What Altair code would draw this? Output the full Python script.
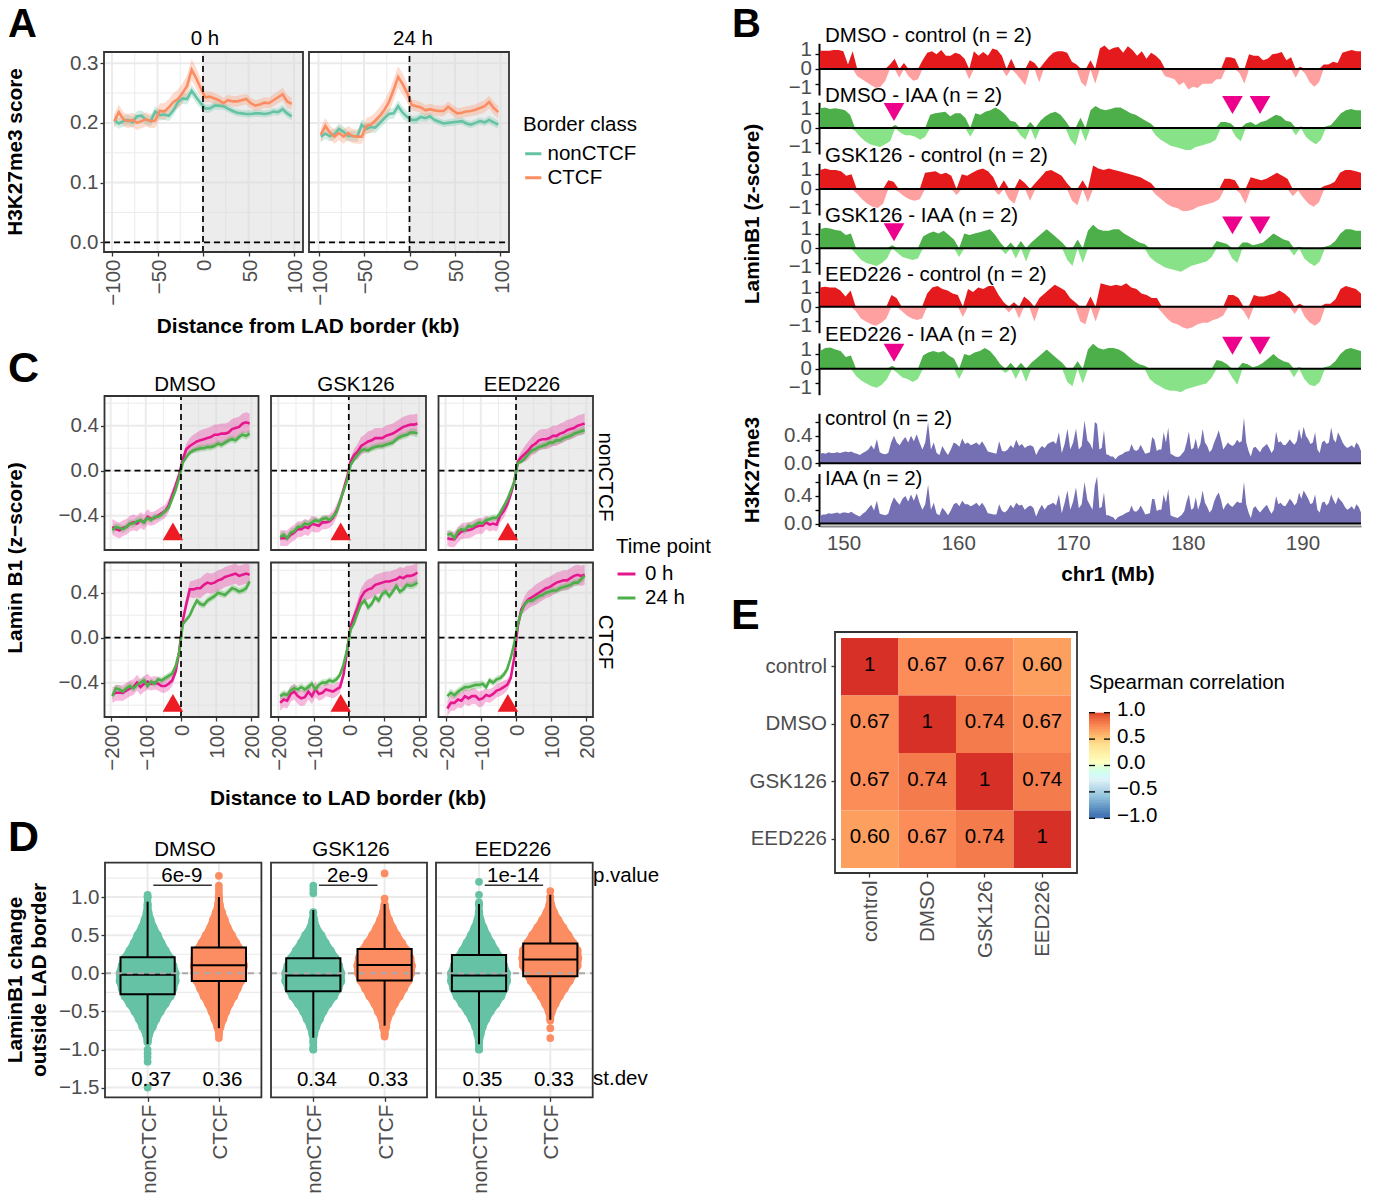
import altair as alt
import pandas as pd

FONT = "Liberation Sans"
FS = 20.5
FB = 20.8
OX, OY = 8, 8
W, H = 1360, 1187
BORDER = "#333333"
GRID = "#EBEBEB"
TEAL, ORANGE, MAGENTA, GREEN = "#66C2A5", "#FC8D62", "#E6168F", "#4DAF4A"

# ---------- Panel A values ----------
A_X = [-97.5 + 5 * i for i in range(40)]
A_NON_0 = [.205,.199,.203,.205,.201,.211,.212,.205,.203,.219,.213,.214,.212,.221,.235,.241,.240,.254,.243,.233,
           .224,.224,.229,.229,.228,.224,.220,.217,.216,.215,.215,.216,.216,.215,.216,.219,.218,.223,.216,.211]
A_CTCF_0 = [.203,.218,.206,.203,.205,.200,.203,.206,.203,.204,.220,.219,.226,.235,.240,.250,.262,.289,.275,.258,
            .243,.244,.241,.238,.233,.238,.236,.236,.238,.240,.233,.229,.231,.234,.233,.238,.243,.248,.236,.232]
A_NON_24 = [.177,.182,.178,.181,.190,.185,.178,.178,.177,.197,.190,.193,.192,.200,.208,.215,.216,.228,.217,.210,
            .205,.205,.210,.208,.211,.205,.202,.199,.200,.201,.202,.203,.199,.197,.200,.203,.201,.205,.201,.197]
A_CTCF_24 = [.180,.195,.184,.177,.183,.177,.183,.178,.177,.177,.195,.197,.204,.212,.222,.235,.255,.277,.265,.250,
             .230,.228,.226,.221,.223,.221,.220,.220,.227,.221,.216,.217,.219,.220,.222,.225,.228,.235,.225,.218]
A_SE_NON = [.009,.009,.009,.009,.009,.009,.009,.009,.009,.009,.009,.009,.009,.009,.009,.009,.009,.010,.010,.009,
            .007,.007,.007,.007,.006,.006,.006,.006,.006,.006,.006,.006,.006,.006,.006,.006,.006,.007,.007,.007]
A_SE_CTCF = [.012,.013,.012,.012,.012,.012,.012,.012,.012,.012,.013,.014,.014,.015,.016,.017,.018,.018,.018,.016,
             .009,.009,.009,.009,.009,.009,.009,.009,.009,.009,.009,.009,.009,.009,.009,.010,.010,.011,.011,.010]

# ---------- Panel C values ----------
C_X = [-195 + 10 * i for i in range(40)]
C_VALUES = {
 ("DMSO","nonCTCF","0 h"): [-.50,-.52,-.53,-.51,-.50,-.47,-.46,-.47,-.44,-.46,-.41,-.43,-.42,-.40,-.38,-.36,-.31,-.22,-.13,-.03,.10,.19,.22,.24,.26,.27,.28,.29,.30,.32,.32,.33,.33,.34,.37,.38,.39,.42,.43,.42],
 ("DMSO","nonCTCF","24 h"): [-.53,-.50,-.51,-.52,-.50,-.47,-.47,-.45,-.44,-.46,-.42,-.44,-.41,-.41,-.39,-.36,-.33,-.25,-.17,-.06,.07,.12,.16,.18,.19,.20,.20,.21,.21,.22,.24,.23,.25,.27,.28,.27,.30,.32,.31,.33],
 ("GSK126","nonCTCF","0 h"): [-.60,-.60,-.60,-.57,-.55,-.52,-.52,-.50,-.51,-.47,-.48,-.49,-.46,-.46,-.45,-.42,-.36,-.28,-.17,-.06,.08,.14,.17,.22,.24,.26,.27,.29,.29,.29,.31,.32,.33,.35,.37,.39,.40,.41,.41,.42],
 ("GSK126","nonCTCF","24 h"): [-.59,-.57,-.60,-.55,-.54,-.50,-.50,-.47,-.48,-.46,-.44,-.45,-.43,-.42,-.44,-.41,-.37,-.27,-.18,-.09,.05,.10,.14,.18,.19,.18,.20,.21,.22,.22,.23,.24,.25,.28,.30,.31,.32,.34,.34,.33],
 ("EED226","nonCTCF","0 h"): [-.60,-.61,-.61,-.57,-.54,-.53,-.53,-.52,-.50,-.49,-.49,-.46,-.48,-.47,-.48,-.40,-.36,-.30,-.21,-.10,.08,.12,.15,.18,.22,.24,.27,.28,.28,.29,.31,.31,.33,.34,.36,.37,.38,.40,.41,.42],
 ("EED226","nonCTCF","24 h"): [-.57,-.56,-.60,-.54,-.52,-.53,-.49,-.50,-.48,-.46,-.47,-.44,-.43,-.42,-.42,-.38,-.32,-.26,-.18,-.10,.07,.08,.11,.15,.18,.19,.21,.22,.23,.25,.25,.27,.27,.29,.30,.31,.33,.34,.35,.36],
 ("DMSO","CTCF","0 h"): [-.51,-.49,-.49,-.49,-.47,-.45,-.44,-.40,-.44,-.41,-.39,-.41,-.40,-.41,-.43,-.43,-.41,-.38,-.30,-.12,.15,.30,.43,.43,.44,.44,.47,.49,.48,.49,.51,.52,.54,.55,.56,.57,.55,.56,.57,.56],
 ("DMSO","CTCF","24 h"): [-.52,-.45,-.46,-.48,-.45,-.43,-.45,-.42,-.40,-.38,-.43,-.39,-.41,-.37,-.38,-.36,-.34,-.32,-.25,-.13,.12,.16,.20,.27,.33,.30,.29,.33,.35,.37,.40,.39,.38,.41,.44,.43,.41,.42,.44,.50],
 ("GSK126","CTCF","0 h"): [-.58,-.55,-.56,-.50,-.48,-.52,-.54,-.53,-.48,-.52,-.46,-.50,-.49,-.46,-.47,-.48,-.46,-.44,-.33,-.12,.10,.19,.27,.36,.41,.43,.44,.47,.48,.49,.50,.50,.51,.52,.54,.53,.55,.55,.56,.58],
 ("GSK126","CTCF","24 h"): [-.52,-.50,-.51,-.47,-.45,-.46,-.44,-.46,-.44,-.41,-.46,-.42,-.40,-.40,-.38,-.39,-.37,-.33,-.24,-.11,.07,.13,.22,.30,.33,.27,.30,.36,.33,.39,.41,.37,.41,.46,.41,.43,.47,.46,.47,.49],
 ("EED226","CTCF","0 h"): [-.63,-.58,-.58,-.55,-.56,-.52,-.54,-.52,-.52,-.55,-.54,-.51,-.52,-.50,-.47,-.46,-.44,-.42,-.36,-.18,.10,.25,.30,.34,.36,.38,.40,.42,.44,.45,.47,.49,.50,.51,.51,.53,.55,.56,.55,.56],
 ("EED226","CTCF","24 h"): [-.52,-.49,-.51,-.48,-.46,-.44,-.44,-.43,-.42,-.42,-.41,-.44,-.38,-.40,-.37,-.36,-.33,-.28,-.18,-.05,.12,.23,.30,.33,.33,.35,.37,.38,.40,.41,.42,.42,.44,.45,.46,.47,.49,.49,.52,.55],
}
C_SE_0 = [.07,.07,.07,.07,.07,.07,.07,.07,.07,.07,.07,.06,.06,.06,.06,.06,.06,.05,.04,.02,
          .03,.05,.07,.08,.08,.09,.09,.09,.09,.09,.09,.09,.09,.09,.09,.09,.09,.09,.09,.09]
C_SE_24 = [.035,.035,.035,.035,.035,.035,.035,.035,.035,.035,.03,.03,.03,.03,.03,.03,.03,.03,.02,.015,
           .015,.02,.025,.025,.03,.03,.03,.03,.03,.03,.03,.03,.03,.03,.03,.03,.03,.03,.035,.035]

# ---------- Panel D values ----------
D_LEVELS = [-1.0,-.9,-.8,-.7,-.6,-.5,-.4,-.3,-.2,-.1,0,.1,.2,.3,.4,.5,.6,.7,.8,.9,1.0]
D_TREATS = ["DMSO","GSK126","EED226"]
D_WIDTH = {
 ("DMSO",1): [0,.06,.08,.13,.18,.24,.31,.38,.42,.45,.45,.42,.38,.31,.25,.20,.14,.10,.07,.06,.04],
 ("DMSO",2): [0,0,.05,.08,.12,.16,.21,.27,.32,.37,.40,.41,.40,.37,.30,.24,.18,.14,.10,.07,.06],
 ("GSK126",1): [.04,.05,.07,.10,.15,.20,.27,.35,.41,.45,.45,.42,.37,.30,.23,.17,.10,.07,.05,0,0],
 ("GSK126",2): [0,0,.05,.08,.10,.15,.20,.27,.33,.39,.43,.44,.42,.37,.30,.23,.17,.12,.08,.06,0],
 ("EED226",1): [.04,.06,.08,.11,.16,.22,.30,.37,.42,.45,.45,.41,.36,.29,.23,.17,.12,.08,.06,.04,0],
 ("EED226",2): [0,0,0,0,.05,.08,.13,.19,.26,.33,.39,.44,.45,.44,.38,.31,.24,.17,.11,.07,.05],
}
D_OUT = {
 ("DMSO",1): [1.03,-1.0,-1.05,-1.1,-1.16,-1.5],
 ("DMSO",2): [1.28,1.15,1.1,1.05,-.85],
 ("GSK126",1): [1.15,1.1,1.05,-.97],
 ("GSK126",2): [1.31,.98,-.83],
 ("EED226",1): [1.2,1.03,.93,-.97],
 ("EED226",2): [1.08,-.62,-.72,-.85],
}
# lower whisker, q1, median, q3, upper whisker
D_BOX = {
 ("DMSO",1): [-.93,-.276,-.02,.21,.94],
 ("DMSO",2): [-.72,-.10,.105,.34,1.0],
 ("GSK126",1): [-.845,-.236,-.03,.197,.83],
 ("GSK126",2): [-.687,-.096,.11,.32,.91],
 ("EED226",1): [-.93,-.236,-.03,.24,.91],
 ("EED226",2): [-.61,-.04,.18,.39,1.03],
}
D_P = {"DMSO":"6e-9","GSK126":"2e-9","EED226":"1e-14"}
D_SD = {"DMSO":["0.37","0.36"],"GSK126":["0.34","0.33"],"EED226":["0.35","0.33"]}

# ---------- Panel B values ----------
T_DMSO_C = [1.25,1.25,1.25,1.3,1.3,1.2,.3,1.2,-.5,-.7,-.9,-1.1,-1.3,-1.2,-.8,.3,.7,-.6,.4,-.5,-.8,-.7,.6,1.1,1.2,1.0,1.3,.9,.9,1.1,1.0,.7,-.7,1.2,.9,1.15,.9,1.4,1.3,.9,-.5,.7,-.3,-.7,-1.1,.6,.4,-.9,.4,.8,1.1,1.2,1.2,1.1,.5,.3,-.9,-1.2,
            .6,-1.0,1.4,1.6,1.3,1.45,1.5,1.1,1.55,1.3,.9,1.2,.7,1.1,.9,.6,-.5,-.6,-.7,-1.1,-.9,-1.4,-1.2,-1.3,-1.0,-1.0,-1.0,-.7,-.7,.8,.8,.7,-.3,-1.0,1.0,.9,.9,.6,.7,1.0,1.05,1.15,.6,.8,-.6,.15,-.3,-.9,-1.2,-.9,.3,.3,.5,.4,1.1,1.2,1.3,1.2,1.2]
T_DMSO_I = [1.35,1.4,1.3,1.35,1.3,1.2,.9,-.2,-.6,-.9,-1.1,-1.2,-1.3,-1.1,-.9,.2,-.3,-.5,-.5,-.6,-.8,-.6,.9,1.0,1.05,1.1,.8,1.0,1.0,.7,-.6,1.0,.9,1.1,1.2,1.4,1.2,.9,.5,.4,-.5,-.8,.4,-.8,.5,.8,1.0,1.1,.9,.5,-.8,-1.2,.7,-.9,1.2,1.5,1.3,1.2,1.3,1.4,1.4,1.2,1.0,.9,.7,.5,.3,-.5,-.8,-1.0,-1.2,-1.3,-1.4,-1.5,-1.5,-1.3,-1.2,-1.1,-1.0,-.8,.4,.4,.3,-.6,-.9,.3,.4,.2,.4,.5,.7,.9,.8,.5,.4,-.5,.1,-.6,-.9,-1.1,-.8,.1,.2,.6,1.0,1.2,1.3,1.2,1.2]
T_GSK_C = [1.3,1.4,1.3,1.3,1.2,.9,1.0,-.3,-.7,-1.0,-1.2,-1.3,-1.0,.6,.5,-.2,-.5,-.7,-.8,-.7,1.1,1.15,1.2,1.0,1.1,.9,-.4,1.0,.9,1.1,1.3,1.4,1.2,.8,-.4,.6,-.7,-1.0,.7,.4,-.8,.4,.8,1.2,1.3,1.1,.9,.4,-.8,-1.1,.6,-.9,1.6,1.4,1.3,1.4,1.3,1.2,1.1,1.0,.9,.8,.6,.4,-.4,-.7,-1.0,-1.2,-1.3,-1.5,-1.5,-1.4,-1.2,-1.1,-1.0,-.9,-.7,.7,.7,.6,-.3,-1.0,.8,.7,.6,.7,.9,1.1,.9,.7,-.5,-.1,-.6,-1.0,-1.2,-.9,.2,.3,.5,1.1,1.3,1.3,1.2,1.1]
T_GSK_I = [1.3,1.4,1.35,1.25,1.2,.9,1.0,-.4,-.8,-1.0,-1.1,-1.2,-1.0,-.7,.2,-.3,-.6,-.7,-.8,-.7,.8,1.0,1.15,1.0,1.2,.9,.6,-.6,1.0,.9,1.0,1.1,1.2,1.3,.9,.4,-.4,.4,-.7,.5,-.9,.4,.7,1.0,1.3,1.0,.7,.4,-.8,-1.2,.6,-1.0,1.2,1.6,1.3,1.2,1.2,1.3,1.3,1.0,.8,.6,.4,.3,-.6,-.9,-1.1,-1.3,-1.4,-1.5,-1.6,-1.4,-1.2,-1.1,-1.0,-.9,-.6,.5,.4,.3,-.7,-1.0,.4,.4,.2,.3,.4,.7,1.0,.8,.6,.5,-.5,.1,-.7,-1.0,-1.2,-.9,.1,.2,.5,1.0,1.3,1.3,1.2,1.2]
T_EED_C = [1.3,1.35,1.3,1.3,1.1,.7,1.1,-.3,-.8,-1.0,-1.2,-1.3,-1.1,-.8,.8,.6,-.3,-.6,-.8,-.9,-.8,.9,1.3,1.4,1.2,1.1,.9,.8,-.7,1.2,1.0,1.3,1.2,1.4,1.4,.8,.3,-.4,.3,-.8,.7,.4,-1.0,.6,.9,1.2,1.5,1.3,1.1,.6,.3,-1.0,-1.2,.7,-1.0,1.6,1.5,1.4,1.5,1.4,1.6,1.3,1.2,.9,.8,.6,.6,-.4,-.8,-1.1,-1.2,-1.4,-1.5,-1.4,-1.2,-1.1,-1.1,-.9,-.8,-.6,.8,.8,.6,-.3,-.9,.8,.7,.7,.8,.9,1.1,.9,.6,-.5,.2,-.7,-1.1,-1.3,-1.0,.2,.2,.5,1.2,1.4,1.3,1.2,.9]
T_EED_I = [1.2,1.4,1.45,1.3,1.2,.8,.9,-.5,-.8,-1.0,-1.2,-1.3,-1.1,-.7,.2,-.3,-.6,-.7,-.9,-.7,.9,1.1,1.2,1.1,1.2,.9,.7,-.7,1.0,.9,1.1,1.2,1.4,1.2,.8,.3,-.3,.4,-.7,.4,-.9,.4,.7,1.0,1.3,1.0,.7,.4,-.9,-1.2,.5,-1.0,1.3,1.7,1.4,1.3,1.4,1.4,1.3,1.1,.8,.5,.3,.2,-.7,-1.0,-1.2,-1.4,-1.5,-1.5,-1.6,-1.4,-1.3,-1.2,-1.1,-1.0,-.6,.6,.5,.3,-.6,-1.1,.4,.3,.1,.2,.4,.7,1.0,.7,.5,.4,-.6,.1,-.7,-1.1,-1.2,-.9,.1,.2,.5,1.0,1.3,1.4,1.3,1.2]

H_CTRL_L = [.14,.15,.14,.16,.15,.15,.16,.15,.16,.17,.16,.17,.15,.14,.12,.15,.17,.2,.26,.2,.35,.16,.14,.13,.15,.3,.4,.3,.26,.33,.38,.3,.4,.32,.42,.3,.2,.3,.6,.2,.3,.15,.12,.25,.18,.12,.2,.3,.28,.24,.36,.28,.3,.26,.28,.3,.26,.32,.25,.17,.16,.15,.14,.32,.18,.17,.2,.26,.22,.34,.25,.28,.22,.25,.26,.24,.12,.2,.25,.22,.28,.3,.32,.28,.45,.15,.28,.5,.2,.3,.5,.2,.25,.62,.33]
H_CTRL_R = [.28,.2,.6,.57,.2,.22,.48,.13,.12,.1,.1,.06,.1,.12,.13,.16,.17,.18,.28,.2,.18,.2,.27,.2,.14,.15,.16,.38,.34,.18,.2,.2,.45,.3,.52,.14,.12,.1,.09,.1,.14,.18,.3,.46,.2,.22,.36,.2,.28,.5,.3,.25,.16,.2,.3,.38,.48,.35,.2,.25,.3,.27,.25,.28,.34,.3,.32,.66,.3,.18,.1,.22,.24,.2,.16,.22,.25,.28,.22,.15,.2,.46,.3,.32,.27,.26,.3,.35,.3,.27,.32,.5,.35,.53,.4,.35,.28,.3,.45,.2,.15,.3,.33,.28,.3,.52,.35,.3,.45,.38,.3,.25,.22,.24,.26,.22,.3,.26,.18]
H_IAA_L = [.11,.13,.13,.15,.14,.15,.16,.14,.16,.16,.15,.17,.14,.12,.1,.14,.17,.22,.27,.19,.33,.14,.13,.12,.14,.28,.38,.32,.27,.36,.4,.32,.42,.33,.44,.3,.2,.28,.56,.2,.3,.14,.12,.23,.18,.12,.19,.28,.3,.25,.33,.28,.28,.25,.27,.3,.25,.3,.24,.15,.14,.13,.13,.28,.18,.16,.2,.27,.22,.3,.26,.27,.2,.24,.26,.23,.1,.2,.27,.2,.26,.28,.3,.26,.42,.15,.3,.48,.2,.32,.52,.22,.28,.6,.34]
H_IAA_R = [.26,.2,.55,.68,.22,.24,.45,.12,.12,.1,.09,.05,.09,.11,.12,.14,.16,.17,.26,.18,.17,.2,.26,.2,.13,.14,.15,.36,.35,.18,.2,.2,.42,.3,.5,.12,.1,.09,.08,.1,.13,.18,.32,.42,.2,.22,.38,.2,.3,.48,.3,.24,.16,.2,.32,.4,.45,.34,.2,.26,.3,.26,.24,.28,.32,.3,.3,.6,.28,.16,.08,.22,.25,.2,.16,.2,.24,.27,.2,.14,.2,.4,.28,.3,.26,.25,.3,.36,.32,.26,.3,.45,.36,.48,.42,.36,.28,.3,.42,.2,.16,.3,.32,.26,.3,.42,.34,.28,.38,.34,.3,.24,.2,.22,.25,.2,.28,.24,.16]
TRI_MB_LEFT, TRI_MB_RIGHT = [154.4], [183.9, 186.3]

# ---------- Panel E values ----------
E_NAMES = ["control","DMSO","GSK126","EED226"]
E_MATRIX = [[1,.67,.67,.60],[.67,1,.74,.67],[.67,.74,1,.74],[.60,.67,.74,1]]
E_TICKS = [1,.5,0,-.5,-1]
E_BAR_STOPS = [-1+i*.05 for i in range(40)]


# ---------- helpers ----------
def sx(domain, p0, p1):
    return alt.Scale(domain=domain, range=[p0-OX, p1-OX], nice=False, zero=False, clamp=True)

def sy(domain, bottom, top):
    return alt.Scale(domain=domain, range=[bottom-OY, top-OY], nice=False, zero=False, clamp=True)

class Enc:
    """Position channels of one panel: every layer carries the same scale and the same axis."""
    def __init__(self, xs, ys, xax=None, yax=None):
        self.xs, self.ys, self.xax, self.yax = xs, ys, xax, yax
    def x(self, f):
        return alt.X(f + ":Q", scale=self.xs, axis=self.xax)
    def y(self, f):
        return alt.Y(f + ":Q", scale=self.ys, axis=self.yax)

def T(text, x, y, size=FS, bold=False, angle=0, align="left", baseline="middle", color="black"):
    return alt.Chart(pd.DataFrame({"t":[text]})).mark_text(
        font=FONT, fontSize=size, fontWeight="bold" if bold else "normal", angle=angle,
        align=align, baseline=baseline, color=color).encode(
        x=alt.value(x-OX), y=alt.value(y-OY), text="t:N")

def frame(x0, x1, y0, y1, width=1.8):
    return alt.Chart(pd.DataFrame({"a":[0]})).mark_rect(
        fillOpacity=0, stroke=BORDER, strokeWidth=width).encode(
        x=alt.value(x0-OX), x2=alt.value(x1-OX), y=alt.value(y0-OY), y2=alt.value(y1-OY))

def xaxis(bottom, values, fmt="d", **kw):
    d = dict(orient="bottom", offset=bottom-OY-H, values=values, title=None, domain=False, grid=False,
             labelAngle=270, labelAlign="right", labelBaseline="middle", labelFlush=False,
             labelOverlap=False, format=fmt, tickSize=4, labelPadding=3, labelOffset=1.5)
    d.update(kw)
    return alt.Axis(**d)

def yaxis(left, values, fmt=".1f", **kw):
    d = dict(orient="left", offset=-(left-OX), values=values, title=None, domain=False, grid=False,
             labelFlush=False, labelOverlap=False, format=fmt, tickSize=4, labelPadding=2)
    d.update(kw)
    return alt.Axis(**d)

def vrule(e, vals, y0, y1, **mk):
    df = pd.DataFrame({"v":vals,"a":y0,"b":y1})
    return alt.Chart(df).mark_rule(**mk).encode(x=e.x("v"), y=e.y("a"), y2="b:Q")

def hrule(e, vals, x0, x1, **mk):
    df = pd.DataFrame({"v":vals,"a":x0,"b":x1})
    return alt.Chart(df).mark_rule(**mk).encode(y=e.y("v"), x=e.x("a"), x2="b:Q")

def profile_panel(xdom, ydom, box, maj_x, min_x, maj_y, min_y, xax, yax, series, colors, order, legend):
    x0, x1, y0, y1 = box
    e = Enc(sx(xdom, x0, x1), sy(ydom, y1, y0), xax, yax)
    layers = [
        vrule(e, min_x, ydom[0], ydom[1], color=GRID, strokeWidth=1),
        hrule(e, min_y, xdom[0], xdom[1], color=GRID, strokeWidth=1),
        vrule(e, maj_x, ydom[0], ydom[1], color=GRID, strokeWidth=2),
        hrule(e, maj_y, xdom[0], xdom[1], color=GRID, strokeWidth=2),
    ]
    gray = pd.DataFrame({"a":[0],"b":[xdom[1]],"c":[ydom[0]],"d":[ydom[1]]})
    layers.append(alt.Chart(gray).mark_rect(color="#D9D9D9", opacity=.5).encode(
        x=e.x("a"), x2="b:Q", y=e.y("c"), y2="d:Q"))
    df = pd.DataFrame(series)
    cs = alt.Scale(domain=order, range=colors)
    layers.append(alt.Chart(df).mark_area(opacity=.3, strokeWidth=0).encode(
        x=e.x("x"), y=e.y("lo"), y2="hi:Q", color=alt.Color("s:N", scale=cs, legend=legend)))
    layers.append(alt.Chart(df).mark_line(strokeWidth=2.6).encode(
        x=e.x("x"), y=e.y("y"), color=alt.Color("s:N", scale=cs, legend=legend)))
    layers.append(vrule(e, [0], ydom[0], ydom[1], color="black", strokeWidth=1.7, strokeDash=[6,4]))
    layers.append(hrule(e, [0], xdom[0], xdom[1], color="black", strokeWidth=1.7, strokeDash=[6,4]))
    return layers, e

def rows(x, y, se, name):
    return [{"x":a,"y":b,"lo":b-c,"hi":b+c,"s":name} for a,b,c in zip(x,y,se)]


panels = []

# ---------- Panel A ----------
A_LEGEND = alt.Legend(orient="none", legendX=523-OX, legendY=115-OY, title="Border class",
                      symbolType="stroke", symbolSize=260, symbolStrokeWidth=3, symbolOpacity=1, rowPadding=3,
                      labelOffset=4, titlePadding=8, padding=0)
for i, (title, non, ctcf, box, zero) in enumerate([
    ("0 h", A_NON_0, A_CTCF_0, (104,303,52,252), 203),
    ("24 h", A_NON_24, A_CTCF_24, (309,509,52,252), 409.5)]):
    k = .91
    xdom = [(box[0]-zero)/k, (box[1]-zero)/k]
    ydom = [(242.3-252)/597, (242.3-52)/597]
    ser = rows(A_X, non, A_SE_NON, "nonCTCF") + rows(A_X, ctcf, A_SE_CTCF, "CTCF")
    lay, e = profile_panel(xdom, ydom, box, [-100,-50,0,50,100], [-75,-25,25,75],
                           [0,.1,.2,.3], [.05,.15,.25],
                           xaxis(252,[-100,-50,0,50,100]),
                           yaxis(104,[0,.1,.2,.3]) if i==0 else None,
                           ser, [TEAL,ORANGE], ["nonCTCF","CTCF"], A_LEGEND if i==0 else None)
    panels.append(alt.layer(*lay, frame(*box)))

# ---------- Panel C ----------
C_TREATS = ["DMSO","GSK126","EED226"]
C_COLS = [(104.5,258.5,181),(271,426,348.8),(438.5,593,516)]
C_ROWS = [("nonCTCF",396,550,470.7),("CTCF",562.5,717,637.7)]
C_LEGEND = alt.Legend(orient="none", legendX=616-OX, legendY=537-OY, title="Time point",
                      symbolType="stroke", symbolSize=320, symbolStrokeWidth=3, symbolOpacity=1, rowPadding=3,
                      labelOffset=8, titlePadding=6, padding=0)
for r,(cls,top,bot,zy) in enumerate(C_ROWS):
    for c,(x0,x1,zx) in enumerate(C_COLS):
        tr = C_TREATS[c]
        kx, ky = .352, 112.4
        xdom = [(x0-zx)/kx,(x1-zx)/kx]
        ydom = [(zy-bot)/ky,(zy-top)/ky]
        ser = rows(C_X, C_VALUES[(tr,cls,"0 h")], C_SE_0, "0 h") + rows(C_X, C_VALUES[(tr,cls,"24 h")], C_SE_24, "24 h")
        lay, e = profile_panel(xdom, ydom, (x0,x1,top,bot), [-200,-100,0,100,200], [-150,-50,50,150],
                               [-.4,0,.4], [-.6,-.2,.2,.6],
                               xaxis(bot,[-200,-100,0,100,200]) if r==1 else None,
                               yaxis(x0,[-.4,0,.4]) if c==0 else None,
                               ser, [MAGENTA,GREEN], ["0 h","24 h"], C_LEGEND if (r==0 and c==0) else None)
        tri = alt.Chart(pd.DataFrame({"x":[-23],"y":[-.54 if r==0 else -.58]})).mark_point(
            shape="triangle-up", filled=True, size=420, color="#ED1C24", opacity=1).encode(
            x=e.x("x"), y=e.y("y"))
        panels.append(alt.layer(*lay, tri, frame(x0,x1,top,bot)))

# ---------- Panel D ----------
D_COLS = [(105,261.4,147.6),(271,427,313.3),(436,592.7,479)]
for c,tr in enumerate(D_TREATS):
    x0,x1,cx = D_COLS[c]
    top,bot = 862.7,1097.3
    ky = 76.2
    kx = 71.3
    xdom = [1+(x0-cx)/kx, 1+(x1-cx)/kx]
    ydom = [(973.3-bot)/ky,(973.3-top)/ky]
    e = Enc(sx(xdom,x0,x1), sy(ydom,bot,top),
            xaxis(bot,[1,2],labelExpr="datum.value==1?'nonCTCF':'CTCF'"),
            yaxis(x0,[-1.5,-1,-.5,0,.5,1]) if c==0 else None)
    lay = [
        hrule(e,[-1.25,-.75,-.25,.25,.75,1.25],xdom[0],xdom[1],color=GRID,strokeWidth=1.2),
        vrule(e,[1,2],ydom[0],ydom[1],color=GRID,strokeWidth=2),
        hrule(e,[-1.5,-1,-.5,0,.5,1],xdom[0],xdom[1],color=GRID,strokeWidth=2),
    ]
    for cat,col in ((1,TEAL),(2,ORANGE)):
        r = .056
        wd = [(l, max(w-r,0)) for l,w in zip(D_LEVELS, D_WIDTH[(tr,cat)]) if w>0]
        prof = pd.DataFrame({"y":[a for a,b in wd],"a":[cat-b for a,b in wd],"b":[cat+b for a,b in wd]})
        lay.append(alt.Chart(prof).mark_area(color=col, orient="horizontal", stroke=col, strokeWidth=7,
                                             strokeJoin="round").encode(
            y=e.y("y"), x=e.x("a"), x2="b:Q"))
        dots = pd.DataFrame({"y":list(prof.y)*2+D_OUT[(tr,cat)],
                             "x":list(prof.a)+list(prof.b)+[cat]*len(D_OUT[(tr,cat)])})
        lay.append(alt.Chart(dots).mark_circle(color=col, size=60, opacity=1).encode(x=e.x("x"), y=e.y("y")))
    for cat,col in ((1,TEAL),(2,ORANGE)):
        wl,q1,med,q3,wh = D_BOX[(tr,cat)]
        lay.append(vrule(e,[cat],wl,wh,color="black",strokeWidth=2))
        lay.append(alt.Chart(pd.DataFrame({"a":[cat-.38],"b":[cat+.38],"c":[q1],"d":[q3]})).mark_rect(
            color=col, stroke="black", strokeWidth=2).encode(x=e.x("a"), x2="b:Q", y=e.y("c"), y2="d:Q"))
        lay.append(hrule(e,[med],cat-.38,cat+.38,color="black",strokeWidth=2))
    lay.append(hrule(e,[0],xdom[0],xdom[1],color="#AAAAAA",strokeWidth=2,strokeDash=[6,5]))
    lay.append(hrule(e,[1.155],1.08,1.9,color=BORDER,strokeWidth=1.6))
    lay.append(alt.Chart(pd.DataFrame({"x":[1.48],"y":[1.28],"t":[D_P[tr]]})).mark_text(font=FONT,fontSize=FS,color="black").encode(
        x=e.x("x"), y=e.y("y"), text="t:N"))
    lay.append(alt.Chart(pd.DataFrame({"x":[1.05,2.05],"y":[-1.4,-1.4],"t":D_SD[tr]})).mark_text(font=FONT,fontSize=FS,color="black").encode(
        x=e.x("x"), y=e.y("y"), text="t:N"))
    panels.append(alt.layer(*lay, frame(x0,x1,top,bot)))

# ---------- Panel B ----------
XB = [147.95, 195.1]
XL, XR = 820, 1361
K = 14.7
def lamin(vals, zero, pos, neg, tri_on):
    top, bot = zero-25.7, zero+26
    e = Enc(sx(XB, XL, XR), sy([(zero-bot)/K,(zero-top)/K], bot, top), None,
            yaxis(XL-1,[-1,0,1],labels=False,domain=True,domainColor="black",domainWidth=2,tickColor="black"))
    step = (XB[1]-XB[0])/(len(vals)-1)
    df = pd.DataFrame({"a":[XB[0]+i*step for i in range(len(vals))],
                       "p":[max(v,0) for v in vals],"n":[min(v,0) for v in vals],"z":[0]*len(vals)})
    up = alt.Chart(df).mark_area(color=pos, strokeWidth=0).encode(x=e.x("a"), y=e.y("p"), y2="z:Q")
    down = alt.Chart(df).mark_area(color=neg, strokeWidth=0).encode(x=e.x("a"), y=e.y("n"), y2="z:Q")
    base = hrule(e,[0],XB[0],XB[1],color="black",strokeWidth=2)
    labs = []
    for v,t,dy in ((1,"1",-4.3),(0,"0",0),(-1,"\u22121",4.3)):
        labs.append(alt.Chart(pd.DataFrame({"v":[v],"t":[t]})).mark_text(
            font=FONT,fontSize=FS,color="#4D4D4D",align="right",dy=dy).encode(
            x=alt.value(812-OX), y=e.y("v"), text="t:N"))
    out = [up, down, base] + labs
    if tri_on:
        t = pd.DataFrame({"x":TRI_MB_LEFT+TRI_MB_RIGHT,"y":[1.09,1.56,1.56]})
        out.append(alt.Chart(t).mark_point(shape="triangle-down",filled=True,size=428,color="#EC008C",opacity=1).encode(
            x=e.x("x"), y=e.y("y")))
    return alt.layer(*out)

RED, PINK, GRN, LGRN = "#E41A1C", "#FFA0A0", "#4DAF4A", "#88E288"
for vals,zero,p,n,tri in [
    (T_DMSO_C,69,RED,PINK,False),(T_DMSO_I,128,GRN,LGRN,True),
    (T_GSK_C,189,RED,PINK,False),(T_GSK_I,248.3,GRN,LGRN,True),
    (T_EED_C,306.7,RED,PINK,False),(T_EED_I,368.7,GRN,LGRN,True)]:
    panels.append(lamin(vals,zero,p,n,tri))

def h3(left, right, zero, last):
    top, bot = zero-50, zero+3
    kh = 69
    yax = yaxis(XL-1,[0,.2,.4,.6],labelExpr="(datum.value==0||(datum.value>0.39&&datum.value<0.41))?format(datum.value,'.1f'):''",
                domain=True,domainColor="black",domainWidth=2,tickColor="black",labelPadding=3)
    xax = xaxis(526,[150,160,170,180,190],labelAngle=0,labelAlign="center",labelBaseline="top",tickSize=0,labelPadding=7,
                labelOffset=0,domain=True,domainColor="#888888",domainWidth=2) if last else None
    e = Enc(sx(XB, XL, XR), sy([(zero-bot)/kh,(zero-top)/kh], bot, top), xax, yax)
    mid = 171.5
    sl = (mid-XB[0])/len(left); sr = (XB[1]-mid)/(len(right)-1)
    a = [XB[0]+i*sl for i in range(len(left))]+[mid+i*sr for i in range(len(right))]
    df = pd.DataFrame({"a":a,"v":left+right,"z":[0]*len(a)})
    area = alt.Chart(df).mark_area(color="#7570B3", strokeWidth=0).encode(x=e.x("a"), y=e.y("v"), y2="z:Q")
    base = hrule(e,[0],XB[0],XB[1],color="black",strokeWidth=2)
    return alt.layer(area, base)

panels.append(h3(H_CTRL_L,H_CTRL_R,463.3,False))
panels.append(h3(H_IAA_L,H_IAA_R,523.5,True))

# ---------- Panel E ----------
ex = alt.Scale(domain=E_NAMES, range=[841-OX,1071-OX], paddingInner=0, paddingOuter=0)
ey = alt.Scale(domain=E_NAMES, range=[638-OY,868-OY], paddingInner=0, paddingOuter=0)
cells = pd.DataFrame([{"a":a,"b":b,"v":E_MATRIX[i][j],
                       "t":"1" if E_MATRIX[i][j]==1 else f"{E_MATRIX[i][j]:.2f}"}
                      for i,b in enumerate(E_NAMES) for j,a in enumerate(E_NAMES)])
e_cols = alt.Scale(domain=[-1,-.667,-.333,0,.333,.667,1],
                   range=["#4575B4","#91BFDB","#E0F3F8","#FFFFBF","#FEE090","#FC8D59","#D73027"])
ex_ax = alt.Axis(orient="bottom", offset=873-OY-H, title=None, domain=False, grid=False, labelAngle=270,
                 labelAlign="right", labelBaseline="middle", tickSize=4, labelPadding=3, labelOverlap=False, labelOffset=1)
ey_ax = alt.Axis(orient="left", offset=-(835-OX), title=None, domain=False, grid=False, tickSize=4,
                 labelPadding=4.5, labelOverlap=False)
tiles = alt.Chart(cells).mark_rect().encode(
    x=alt.X("a:N", scale=ex, sort=E_NAMES, axis=ex_ax),
    y=alt.Y("b:N", scale=ey, sort=E_NAMES, axis=ey_ax),
    color=alt.Color("v:Q", scale=e_cols, legend=None))
etxt = alt.Chart(cells).mark_text(font=FONT,fontSize=FS,color="black",dy=-2).encode(
    x=alt.X("a:N", scale=ex, sort=E_NAMES, axis=ex_ax),
    y=alt.Y("b:N", scale=ey, sort=E_NAMES, axis=ey_ax), text="t:N")
panels.append(alt.layer(tiles, etxt, frame(835,1077,632,873)))

# colour bar of panel E, drawn through the same colour scale; each band overlaps the next so no seams show
cb_y = sy([-1,1],818.3,712.7)
cb = pd.DataFrame({"v":E_BAR_STOPS,"w":[min(s+.09,1) for s in E_BAR_STOPS]})
panels.append(alt.Chart(cb).mark_rect(strokeWidth=0).encode(
    y=alt.Y("v:Q", scale=cb_y, axis=None), y2="w:Q", x=alt.value(1089-OX), x2=alt.value(1110-OX),
    color=alt.Color("v:Q", scale=e_cols, legend=None),
    order=alt.Order("v:Q", sort="descending")))
for a,b in ((1089,1095),(1104,1110)):
    panels.append(alt.Chart(pd.DataFrame({"v":E_TICKS})).mark_rule(color="black",strokeWidth=1.3).encode(
        y=alt.Y("v:Q", scale=cb_y, axis=None), x=alt.value(a-OX), x2=alt.value(b-OX)))
panels.append(alt.Chart(pd.DataFrame({"v":E_TICKS,"t":["1.0","0.5","0.0","\u22120.5","\u22121.0"]})).mark_text(
    font=FONT,fontSize=FS,color="black",align="left",dy=-2.5).encode(
    y=alt.Y("v:Q", scale=cb_y, axis=None), x=alt.value(1117-OX), text="t:N"))

# ---------- Text ----------
texts = [
    T("A",8,37,40,True,baseline="alphabetic"), T("B",732,37,40,True,baseline="alphabetic"),
    T("C",8,382,43,True,baseline="alphabetic"), T("D",8,851,43,True,baseline="alphabetic"),
    T("E",731,629,43,True,baseline="alphabetic"),
    T("0 h",205,39,align="center"), T("24 h",413,39,align="center"),
    T("H3K27me3 score",16,152,FB,True,270,"center"),
    T("Distance from LAD border (kb)",308,327,FB,True,0,"center"),
    T("DMSO",185,385,align="center"), T("GSK126",356,385,align="center"), T("EED226",522,385,align="center"),
    T("nonCTCF",605,477,FS,False,90,"center"), T("CTCF",605,642,FS,False,90,"center"),
    T("Lamin B1 (z\u2212score)",16,558,FB,True,270,"center"),
    T("Distance to LAD border (kb)",348,799,FB,True,0,"center"),
    T("DMSO",185,850,align="center"), T("GSK126",351,850,align="center"), T("EED226",513,850,align="center"),
    T("p.value",593,876), T("st.dev",593,1079),
    T("LaminB1 change",16,980,FB,True,270,"center"), T("outside LAD border",40,980,FB,True,270,"center"),
    T("LaminB1 (z-score)",753,214,FB,True,270,"center"), T("H3K27me3",753,470,FB,True,270,"center"),
    T("chr1 (Mb)",1108,575,FB,True,0,"center"),
    T("Spearman correlation",1089,683),
]
for lab,y in (("DMSO - control (n = 2)",36),("DMSO - IAA (n = 2)",96),("GSK126 - control (n = 2)",156),
              ("GSK126 - IAA (n = 2)",216),("EED226 - control (n = 2)",275),("EED226 - IAA (n = 2)",335),
              ("control (n = 2)",419),("IAA (n = 2)",479)):
    texts.append(T(lab,825,y))

chart = alt.layer(*panels, *texts).resolve_scale(x="independent", y="independent", color="independent").properties(
    width=W, height=H, padding=0, autosize=alt.AutoSizeParams(type="none", contains="padding")
).configure(font=FONT).configure_view(stroke=None).configure_axis(
    labelFont=FONT, labelFontSize=FS, labelColor="#4D4D4D", tickColor=BORDER, tickWidth=1.3
).configure_legend(
    titleFont=FONT, labelFont=FONT, titleFontSize=FS, labelFontSize=FS, titleFontWeight="normal",
    titleColor="black", labelColor="black"
)
chart.save("out.html", embed_options={"renderer":"svg","actions":False})
